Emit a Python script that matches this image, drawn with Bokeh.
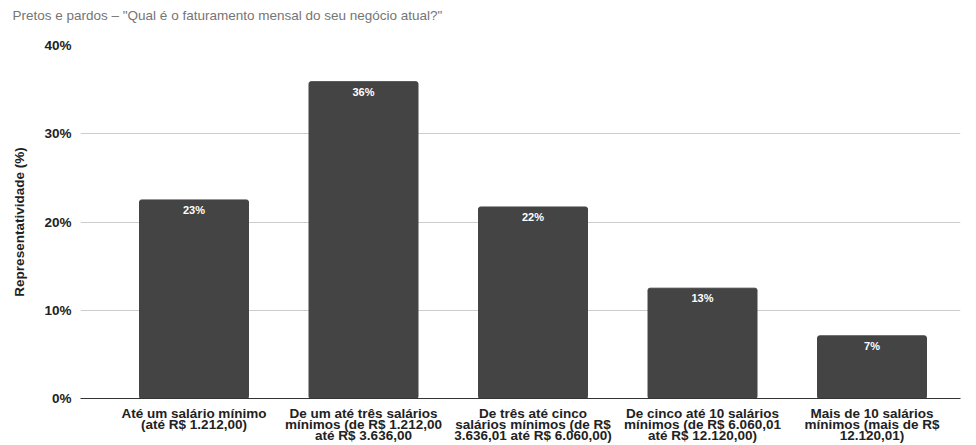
from bokeh.plotting import figure
from bokeh.models import Range1d, FixedTicker, PrintfTickFormatter
from bokeh.core.properties import value
from bokeh.embed import file_html
from bokeh.resources import INLINE

categories = [
    "Até um salário mínimo\n(até R$ 1.212,00)",
    "De um até três salários\nmínimos (de R$ 1.212,00\naté R$ 3.636,00",
    "De três até cinco\nsalários mínimos (de R$\n3.636,01 até R$ 6.060,00)",
    "De cinco até 10 salários\nmínimos (de R$ 6.060,01\naté R$ 12.120,00)",
    "Mais de 10 salários\nmínimos (mais de R$\n12.120,01)",
]
values = [22.5, 35.9, 21.7, 12.5, 7.1]
bar_labels = ["23%", "36%", "22%", "13%", "7%"]
y_ticks = [0, 10, 20, 30, 40]
title_text = 'Pretos e pardos – "Qual é o faturamento mensal do seu negócio atual?"'
y_label = "Representatividade (%)"

FONT = "Liberation Sans"
FS = "13.5px"
xs = list(range(len(categories)))

p = figure(width=976, height=445, output_backend="svg", toolbar_location=None,
           x_range=Range1d(-0.6696, 4.522), y_range=Range1d(0, 40),
           min_border_left=80, min_border_right=16, min_border_top=45,
           min_border_bottom=47)
p.outline_line_color = None
p.background_fill_color = "white"
p.border_fill_color = "white"

# trailing blank line lifts the title toward the top of the canvas
p.title.text = title_text + "\n"
p.title.text_font = FONT
p.title.text_font_size = FS
p.title.text_font_style = "normal"
p.title.text_color = "#757575"
p.title.align = "left"
p.title.vertical_align = "top"
p.title.offset = -68
p.title.standoff = 12

p.vbar(x=xs, top=values, width=0.643, color="#444444", border_radius=2)
p.text(x=xs, y=values, text=bar_labels, text_color="white",
       text_font=value(FONT), text_font_style="bold", text_font_size="11px",
       text_align="center", text_baseline="top", y_offset=4)

# y axis
p.yaxis.ticker = FixedTicker(ticks=y_ticks)
p.yaxis.formatter = PrintfTickFormatter(format="%d%%")
p.yaxis.axis_line_color = None
p.yaxis.major_tick_line_color = None
p.yaxis.minor_tick_line_color = None
p.yaxis.major_label_text_font = FONT
p.yaxis.major_label_text_font_style = "bold"
p.yaxis.major_label_text_font_size = FS
p.yaxis.major_label_text_color = "#222222"
p.yaxis.major_label_standoff = 3
p.yaxis.axis_label = y_label
p.yaxis.axis_label_text_font = FONT
p.yaxis.axis_label_text_font_style = "bold"
p.yaxis.axis_label_text_font_size = FS
p.yaxis.axis_label_text_color = "#222222"
p.yaxis.axis_label_standoff = 14

# x axis
p.xaxis.ticker = FixedTicker(ticks=xs)
p.xaxis.major_label_overrides = {i: c for i, c in zip(xs, categories)}
p.xaxis.axis_line_color = "#333333"
p.xaxis.axis_line_width = 1
p.xaxis.major_tick_line_color = None
p.xaxis.minor_tick_line_color = None
p.xaxis.major_label_text_font = FONT
p.xaxis.major_label_text_font_style = "bold"
p.xaxis.major_label_text_font_size = FS
p.xaxis.major_label_text_color = "#222222"
p.xaxis.major_label_text_line_height = 0.74
p.xaxis.major_label_standoff = 1

p.xgrid.grid_line_color = None
p.ygrid.grid_line_color = "#cccccc"
p.ygrid.ticker = FixedTicker(ticks=y_ticks)

open("out.html", "w").write(file_html(p, INLINE))
